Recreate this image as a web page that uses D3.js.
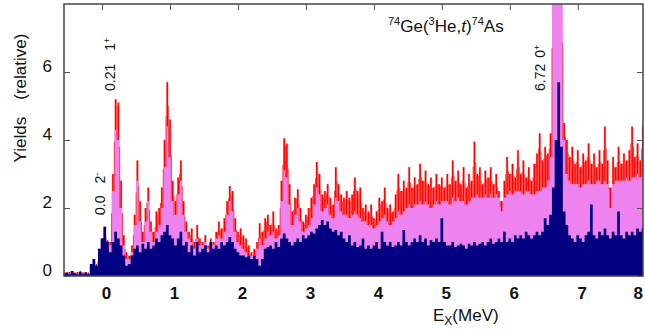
<!DOCTYPE html>
<html><head><meta charset="utf-8">
<script src="https://cdn.jsdelivr.net/npm/d3@7"></script>
<style>body{margin:0;background:#fff}svg{display:block}</style>
</head><body>
<script>
// channel calibration of the spectrum (MeV)
const E0 = -0.56, dE = 0.04;
const xTicks = [0,1,2,3,4,5,6,7,8];
const yTicks = [0,2,4,6];

// lower spectrum (navy)
const navy = [
0.05,0.1,0.05,0.15,0.08,0.05,0.12,0.05,0.1,0.05,
0.35,0.5,0.3,0.8,1.1,1.45,1.0,0.7,1.0,1.3,
1.1,0.9,0.6,0.3,0.35,0.6,0.8,0.9,0.7,0.95,
0.8,1.0,0.8,0.9,1.1,1.0,1.2,1.3,1.5,1.2,
1.1,0.9,1.1,1.3,0.9,1.0,0.7,0.9,0.6,1.0,
0.7,0.8,0.9,0.7,1.0,0.8,0.9,0.8,1.0,0.9,
1.0,1.15,1.0,0.8,0.7,0.6,0.6,0.55,0.6,0.5,
0.6,0.5,0.3,0.5,0.8,0.85,0.9,0.8,1.0,0.85,
1.1,1.25,1.1,1.0,0.9,1.0,1.1,1.0,1.2,1.1,
1.2,1.3,1.25,1.4,1.5,1.65,1.5,1.6,1.4,1.3,
1.35,1.2,1.3,1.1,1.0,1.2,0.9,1.0,0.85,0.9,
1.1,0.8,0.9,0.8,0.9,1.0,0.8,1.3,1.0,0.9,
1.0,0.85,0.9,1.0,0.9,1.35,1.0,0.9,1.0,1.1,
1.0,1.2,1.0,1.1,0.9,1.05,1.0,1.1,1.0,1.7,
1.0,0.9,0.9,1.0,0.85,0.9,0.95,0.9,0.8,0.95,
0.9,1.0,0.9,0.95,1.0,0.9,1.0,1.1,0.95,1.0,
1.1,1.0,1.3,1.0,1.1,1.0,1.2,1.1,1.2,1.1,
1.3,1.2,1.1,1.2,1.3,1.2,1.3,1.7,1.5,1.8,
2.6,4.0,5.7,3.8,1.9,1.5,1.2,1.1,1.0,1.2,
1.1,1.0,1.2,1.3,2.1,1.2,1.1,1.3,1.2,1.4,
1.2,1.1,1.3,1.2,1.9,1.2,1.1,1.3,1.2,1.3,
1.2,1.4,1.3,1.4];

// upper spectrum: smooth body (violet fill)
const violet = [
0.05,0.05,0.05,0.1,0.08,0.05,0.1,0.05,0.05,0.05,
0.3,0.45,0.3,0.75,1.0,1.3,1.0,0.9,2.5,4.3,
4.0,2.0,0.9,0.5,0.5,0.7,1.5,2.8,1.6,1.0,
1.6,2.2,1.3,1.0,1.3,1.5,2.0,3.2,4.4,3.5,
2.2,1.8,2.4,2.8,1.8,1.3,1.1,1.0,0.8,1.1,
0.9,0.9,1.0,0.8,1.0,0.9,1.1,1.2,1.1,1.3,
1.8,2.2,1.9,1.3,1.0,0.9,0.8,0.7,0.6,0.6,
0.6,0.8,1.1,0.9,1.1,1.3,1.2,1.3,1.1,1.2,
2.2,3.1,2.9,2.1,1.5,1.8,2.0,1.6,1.3,1.4,
1.5,1.7,2.1,2.6,2.4,1.9,2.0,2.1,1.8,1.7,
2.3,2.2,1.9,1.8,1.8,1.7,1.8,1.9,1.8,1.7,
1.6,1.6,1.5,1.5,1.4,1.5,1.6,1.7,1.8,1.6,
1.5,1.6,1.7,1.9,1.8,1.9,2.0,2.1,2.0,2.1,
2.1,2.2,2.1,2.2,2.1,2.0,2.1,2.2,2.1,2.2,
2.2,2.2,2.1,2.3,2.2,2.3,2.2,2.2,2.1,2.2,
2.3,2.3,2.4,2.3,2.3,2.4,2.3,2.4,2.3,2.4,
2.3,2.2,2.3,2.4,2.5,2.4,2.5,2.5,2.5,2.4,
2.5,2.5,2.4,2.4,2.5,2.5,2.6,2.6,2.8,3.5,
9,9,9,9,4.0,3.0,2.8,2.7,2.7,2.7,
2.6,2.7,2.7,2.8,2.7,2.7,2.8,2.8,2.7,2.8,
2.7,2.6,2.7,2.8,2.8,2.8,2.8,2.9,2.8,2.9,
2.9,3.0,2.9,3.0];

// upper spectrum: raw noisy tops (red)
const red = [
0.1,0.1,0.12,0.15,0.1,0.12,0.15,0.1,0.12,0.1,
0.3,0.5,0.35,0.8,1.1,1.45,1.05,1.0,3.0,5.2,
5.1,2.8,1.2,0.7,0.6,0.9,1.8,3.4,2.2,1.3,
2.0,2.6,1.6,1.3,1.9,2.0,2.6,4.0,5.7,4.6,
2.8,2.2,2.9,3.4,2.2,1.6,1.3,1.4,1.0,1.5,
1.1,1.0,1.2,0.9,1.1,1.0,1.3,1.6,1.4,1.7,
2.2,2.65,2.5,1.7,1.3,1.4,1.2,1.1,0.9,0.7,
0.8,1.0,1.55,1.3,1.7,1.8,1.5,1.9,1.4,1.5,
2.8,4.05,3.9,2.7,1.9,2.3,2.55,2.0,1.6,1.8,
2.0,2.3,2.7,3.35,3.0,2.4,2.5,2.7,2.3,2.1,
3.2,2.7,2.4,2.3,2.5,2.3,2.4,2.9,2.5,2.6,
2.0,2.1,1.9,2.1,1.7,1.9,2.3,2.2,2.6,2.0,
2.1,1.9,2.4,3.0,2.5,2.8,2.6,3.2,2.6,2.9,
2.7,3.3,2.8,3.1,2.7,2.9,2.6,3.0,2.7,2.9,
2.6,3.0,2.7,3.4,2.8,3.1,2.7,3.2,2.6,3.0,
2.8,3.95,3.0,3.2,2.7,3.1,2.9,3.2,2.7,3.0,
2.5,1.9,2.8,3.5,3.0,3.3,2.9,3.7,3.0,3.4,
2.9,3.2,2.8,3.3,3.6,4.2,3.4,3.8,3.6,4.2,
9.5,9.5,9.5,9.5,4.5,4.0,3.5,3.8,3.3,3.7,
3.2,3.6,3.4,3.9,3.3,3.6,3.2,3.7,3.3,4.4,
3.4,2.0,3.5,3.2,3.8,3.3,3.6,3.4,3.7,4.4,
3.5,3.9,3.4,4.4];

const W = 645, H = 334;
const m = {l:64, r:643, t:4, b:276};
const x = d3.scaleLinear().domain([-0.56, 7.96]).range([m.l, m.r]);
const y = d3.scaleLinear().domain([0, 8]).range([m.b, m.t]);
const ch = d3.range(navy.length);
const E = i => E0 + dE * i;

const svg = d3.select("body").append("svg").attr("width", W).attr("height", H)
  .style("font-family", "'Liberation Sans', Arial, sans-serif");

svg.append("clipPath").attr("id","clip").append("rect")
  .attr("x", m.l).attr("y", m.t).attr("width", m.r - m.l).attr("height", m.b - m.t);
const g = svg.append("g").attr("clip-path","url(#clip)");

// violet body
g.append("path").datum(ch)
  .attr("d", d3.area().curve(d3.curveStep).x(i => x(E(i))).y0(y(0)).y1(i => y(violet[i])))
  .attr("fill", "#ee82ee");
// red noise band
g.append("path").datum(ch)
  .attr("d", d3.area().curve(d3.curveStep).x(i => x(E(i))).y0(i => y(Math.min(violet[i], red[i]))).y1(i => y(red[i])))
  .attr("fill", "rgba(255,70,70,0.30)");
g.selectAll("line.rd").data(ch).join("line").attr("class","rd")
  .attr("x1", i => x(E(i))).attr("x2", i => x(E(i)))
  .attr("y1", i => y(violet[i])).attr("y2", i => y(red[i]))
  .attr("stroke", "#ff0000").attr("stroke-width", 1.6);
g.selectAll("line.rd2").data(ch.slice(1)).join("line").attr("class","rd2")
  .attr("x1", i => x(E(i - 0.5))).attr("x2", i => x(E(i - 0.5)))
  .attr("y1", i => y(Math.min(violet[i], violet[i-1]))).attr("y2", i => y((red[i] + red[i-1]) / 2 - 0.15))
  .attr("stroke", "#ff1a1a").attr("stroke-width", 0.8);
// navy spectrum
g.append("path").datum(ch)
  .attr("d", d3.area().curve(d3.curveStep).x(i => x(E(i))).y0(y(0)).y1(i => y(navy[i])))
  .attr("fill", "#000080");

// frame
svg.append("rect").attr("x", m.l).attr("y", m.t).attr("width", m.r - m.l).attr("height", m.b - m.t)
  .attr("fill", "none").attr("stroke", "#444").attr("stroke-width", 1.5);

// axes
const xb = svg.append("g").attr("transform", `translate(0,${m.b})`)
  .call(d3.axisBottom(x).tickValues(xTicks).tickSize(0).tickPadding(11).tickFormat(d3.format("d")));
xb.select(".domain").remove();
xb.selectAll("text").attr("dx", d => d === 8 ? -8 : 4).style("font-size", "17px").style("font-weight", "bold").attr("fill", "#111");

const xt = svg.append("g").attr("transform", `translate(0,${m.t})`)
  .call(d3.axisTop(x).tickValues(xTicks).tickSize(-6).tickFormat(""));
xt.select(".domain").remove();
xt.selectAll("line").attr("stroke", "#555");

const yl = svg.append("g").attr("transform", `translate(${m.l},0)`)
  .call(d3.axisLeft(y).tickValues(yTicks).tickSize(-6).tickPadding(12).tickFormat(d3.format("d")));
yl.select(".domain").remove();
yl.selectAll("line").attr("stroke", "#555");
yl.selectAll("text").attr("dy", "-0.05em").style("font-size", "17px").attr("fill", "#111");

const yr = svg.append("g").attr("transform", `translate(${m.r},0)`)
  .call(d3.axisRight(y).tickValues(yTicks).tickSize(-6).tickFormat(""));
yr.select(".domain").remove();
yr.selectAll("line").attr("stroke", "#555");

// axis titles
svg.append("text").attr("transform", "translate(26,98) rotate(-90)")
  .attr("text-anchor", "middle").style("font-size", "17px").attr("fill", "#111")
  .text("Yields\u3000(relative)");

const xl = svg.append("text").attr("x", 433).attr("y", 321).style("font-size", "17px").attr("fill", "#111");
xl.append("tspan").text("E");
xl.append("tspan").attr("dy", 4).style("font-size", "12px").text("X");
xl.append("tspan").attr("dy", -4).text("(MeV)");

// reaction title
const t = svg.append("text").attr("x", 388).attr("y", 32).style("font-size", "17px").attr("fill", "#111");
t.append("tspan").attr("dy", -7).style("font-size", "11px").text("74");
t.append("tspan").attr("dy", 7).text("Ge(");
t.append("tspan").attr("dy", -7).style("font-size", "11px").text("3");
t.append("tspan").attr("dy", 7).text("He,");
t.append("tspan").style("font-style", "italic").text("t");
t.append("tspan").text(")");
t.append("tspan").attr("dy", -7).style("font-size", "11px").text("74");
t.append("tspan").attr("dy", 7).text("As");

// level labels (rotated)
function level(px, yBottom, energy, spin, sign, gap) {
  const tx = svg.append("text").attr("transform", `translate(${px},${yBottom}) rotate(-90)`)
    .style("font-size", "14px").attr("fill", "#111");
  tx.append("tspan").text(energy);
  tx.append("tspan").attr("dx", gap).text(spin);
  tx.append("tspan").attr("dy", -5).style("font-size", "9px").text(sign);
}
level(115, 91, "0.21", "1", "+", 14);
level(105, 215, "0.0", "2", "-", 12);
level(545, 91, "6.72", "0", "+", 6);
svg.append("line").attr("x1", x(0) - 1.5).attr("x2", x(0) + 1.5).attr("y1", 214).attr("y2", 214)
  .attr("stroke", "#333").attr("stroke-width", 1.5);
</script>
</body></html>
